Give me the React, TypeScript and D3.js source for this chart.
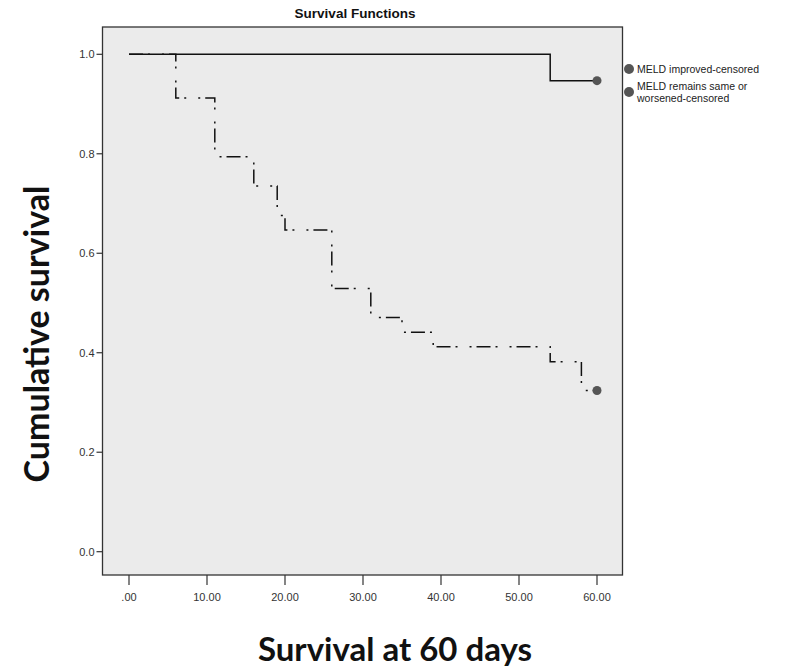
import React from "react";
import * as d3 from "d3";

const xTicks = [0, 10, 20, 30, 40, 50, 60];
const yTicks = [0, 0.2, 0.4, 0.6, 0.8, 1.0];

const improvedTimes = [0, 54, 60];
const improvedSurv = [1, 0.947, 0.947];

const worsenedTimes = [0, 6, 11, 16, 19, 20, 26, 31, 35, 39, 54, 58, 60];
const worsenedSurv = [1, 0.912, 0.794, 0.735, 0.676, 0.647, 0.529, 0.471, 0.441, 0.412, 0.382, 0.324, 0.324];

const legendLabels = ["MELD improved-censored", "MELD remains same or", "worsened-censored"];

export default function App() {
  const W = 792, H = 671;
  const left = 102.5, right = 622.5, top = 27, bottom = 575;
  const x = d3.scaleLinear().domain([0, 60]).range([129, 597]);
  const y = d3.scaleLinear().domain([0, 1]).range([551.7, 54.3]);
  const line = d3.line<[number, number]>().x(d => x(d[0])).y(d => y(d[1])).curve(d3.curveStepAfter);
  const g1 = improvedTimes.map((t, i) => [t, improvedSurv[i]] as [number, number]);
  const g2 = worsenedTimes.map((t, i) => [t, worsenedSurv[i]] as [number, number]);
  const tickFont = "'Liberation Sans', Arial, sans-serif";
  const dotColor = "#555";
  return (
    <svg width={W} height={H} style={{ position: "absolute", left: 0, top: 0, background: "#fff" }}>
      <rect x={left} y={top} width={right - left} height={bottom - top} fill="#ebebeb" stroke="#333" strokeWidth={1.3} />
      <text x={355} y={18} textAnchor="middle" fontFamily={tickFont} fontWeight="bold" fontSize={13.5} fill="#111">Survival Functions</text>
      {yTicks.map(v => (
        <g key={v}>
          <line x1={left - 6} x2={left} y1={y(v)} y2={y(v)} stroke="#333" strokeWidth={1.2} />
          <text x={left - 8} y={y(v) + 4} textAnchor="end" fontFamily={tickFont} fontSize={11} fill="#333">{v.toFixed(1)}</text>
        </g>
      ))}
      {xTicks.map(v => (
        <g key={v}>
          <line x1={x(v)} x2={x(v)} y1={bottom} y2={bottom + 10} stroke="#333" strokeWidth={1.2} />
          <text x={x(v)} y={bottom + 26} textAnchor="middle" fontFamily={tickFont} fontSize={11} fill="#333">{v === 0 ? ".00" : v.toFixed(2)}</text>
        </g>
      ))}
      <path d={line(g1) || ""} fill="none" stroke="#111" strokeWidth={1.5} />
      <path d={line(g2) || ""} fill="none" stroke="#111" strokeWidth={1.5} strokeDasharray="14,5,2,12,2,5" />
      <circle cx={x(improvedTimes[improvedTimes.length - 1])} cy={y(improvedSurv[improvedSurv.length - 1])} r={4.5} fill={dotColor} />
      <circle cx={x(worsenedTimes[worsenedTimes.length - 1])} cy={y(worsenedSurv[worsenedSurv.length - 1])} r={4.5} fill={dotColor} />
      <circle cx={629} cy={69} r={5} fill={dotColor} />
      <circle cx={629} cy={92} r={5} fill={dotColor} />
      <text x={637} y={73} fontFamily={tickFont} fontSize={10.5} fill="#222">{legendLabels[0]}</text>
      <text x={637} y={90} fontFamily={tickFont} fontSize={10.5} fill="#222">{legendLabels[1]}</text>
      <text x={637} y={102} fontFamily={tickFont} fontSize={10.5} fill="#222">{legendLabels[2]}</text>
      <text transform="translate(49,334) rotate(-90)" textAnchor="middle" fontFamily="Lato, 'Open Sans', sans-serif" fontWeight="bold" fontSize={34} fill="#111">Cumulative survival</text>
      <text x={395} y={661} textAnchor="middle" fontFamily="Lato, 'Open Sans', sans-serif" fontWeight="bold" fontSize={33} fill="#111">Survival at 60 days</text>
    </svg>
  );
}
